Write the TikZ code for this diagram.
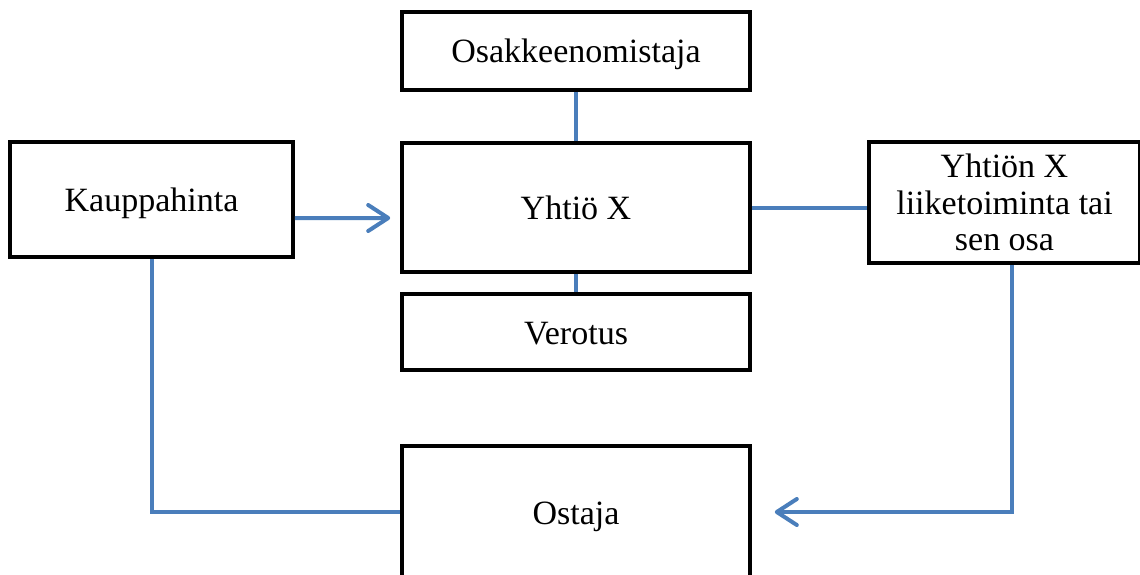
\documentclass[tikz,border=0pt]{standalone}
\usepackage{fontspec}
\setmainfont{Liberation Serif}
\usepackage{tikz}
\usetikzlibrary{arrows.meta}
\definecolor{linkblue}{HTML}{4A7EBB}

\begin{document}
\begin{tikzpicture}
    \tikzstyle{box} = [draw, line width=0.09cm, minimum width=8.7cm, inner sep=0pt,
                       align=center, font=\fontsize{24.2}{25.9}\selectfont]
    \tikzstyle{oneline} = [box, text height=0.75cm, text depth=0.15cm]
    \tikzstyle{link} = [draw=linkblue, line width=0.1cm]
    \tikzstyle{arrow} = [link, -{Straight Barb[length=5mm, width=6.5mm, round]}]
    \useasboundingbox (0,0) rectangle (28.5,-14.35);

    % Top box, the owner
    \node [oneline, minimum height=1.95cm] (Owner) at (14.4,-1.275) {Osakkeenomistaja};

    % Middle box, the company
    \node [oneline, minimum height=3.225cm] (Company) at (14.4,-5.1875) {Yhtiö X};
    \draw [link] (Owner) -- (Company);

    % Under the company, taxation
    \node [oneline, minimum height=1.9cm] (Tax) at (14.4,-8.3) {Verotus};
    \draw [link] (Company) -- (Tax);

    % Left box, the price
    \node [oneline, minimum width=7.075cm, minimum height=2.875cm] (Price) at (3.7875,-4.9875) {Kauppahinta};
    \draw [arrow, shorten >=0.25cm] ([yshift=-0.4625cm]Price.east) -- ([yshift=-0.2625cm]Company.west);

    % Right box, the business
    \node [box, minimum width=6.775cm, minimum height=3.025cm] (Business) at (25.1125,-5.0625)
          {Yhtiön X\\liiketoiminta tai\\sen osa};
    \draw [link] (Company.east) -- (Company.east -| Business.west);

    % Bottom box, the buyer
    \node [oneline, minimum height=3.3cm] (Buyer) at (14.4,-12.8) {Ostaja};
    \draw [link] (Price.south) |- (Buyer.west);
    \draw [arrow, shorten >=0.575cm] ([xshift=0.1875cm]Business.south) |- (Buyer.east);
\end{tikzpicture}
\end{document}
